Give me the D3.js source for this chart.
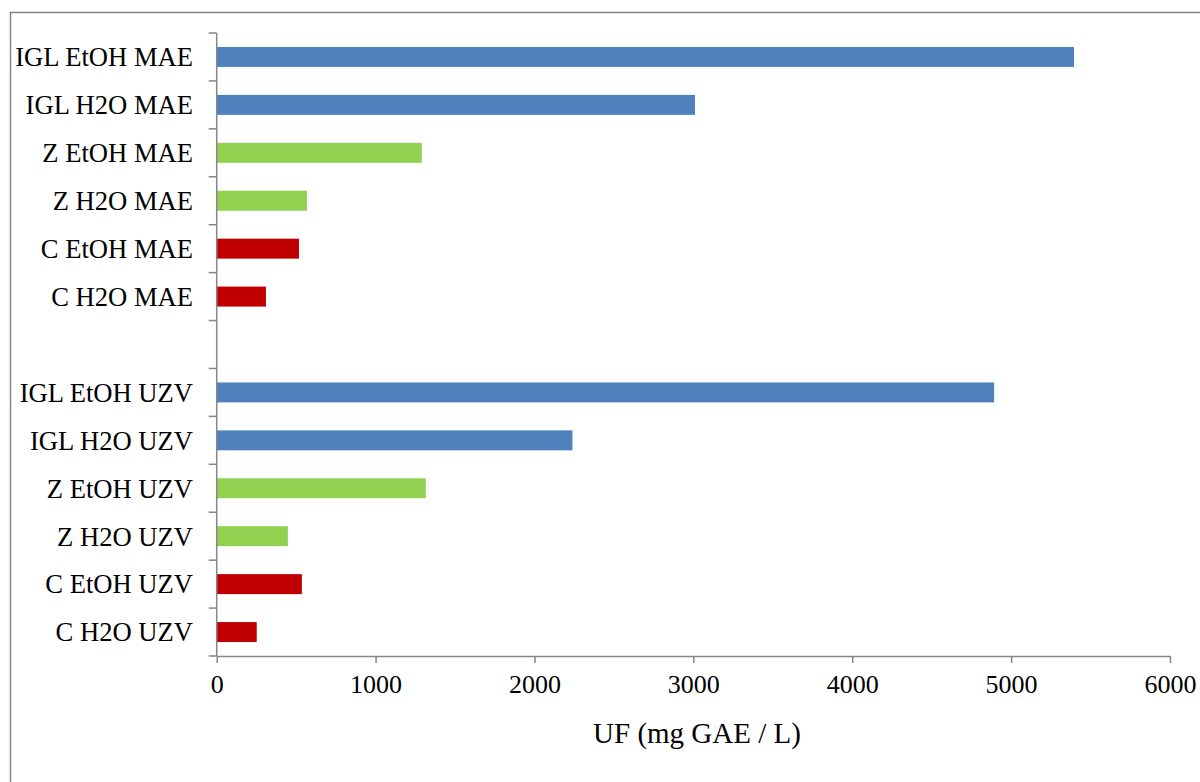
<!DOCTYPE html>
<html>
<head>
<meta charset="utf-8">
<script src="https://cdn.jsdelivr.net/npm/d3@7"></script>
<style>
  html, body { margin: 0; padding: 0; background: #fff; }
  svg { display: block; }
</style>
</head>
<body>
<svg id="chart" width="1200" height="782"></svg>
<script>
// Categories top to bottom ("" = empty slot between groups)
const categories = [
  "IGL EtOH MAE", "IGL H2O MAE", "Z EtOH MAE", "Z H2O MAE", "C EtOH MAE", "C H2O MAE",
  "",
  "IGL EtOH UZV", "IGL H2O UZV", "Z EtOH UZV", "Z H2O UZV", "C EtOH UZV", "C H2O UZV"
];
const values = [5396, 3010, 1291, 568, 518, 310, null, 4893, 2239, 1316, 448, 536, 252];
const groups = ["IGL", "IGL", "Z", "Z", "C", "C", null, "IGL", "IGL", "Z", "Z", "C", "C"];
const groupColors = { IGL: "#4F81BD", Z: "#92D050", C: "#C00000" };
const xTicks = [0, 1000, 2000, 3000, 4000, 5000, 6000];
const xTitle = "UF (mg GAE / L)";

(function () {
const svg = d3.select("#chart");
const font = "'Liberation Serif', 'Times New Roman', serif";
const axisColor = "#868686";

// Outer chart border (extends beyond the visible window on right and bottom)
svg.append("path")
  .attr("d", "M10.5,790 V12.5 H1210")
  .attr("fill", "none")
  .attr("stroke", axisColor)
  .attr("stroke-width", 1.5);

const pLeft = 216.7, pRight = 1170, pTop = 33, pBottom = 656;

const x = d3.scaleLinear().domain([0, 6000]).range([pLeft, pRight]);
const y = d3.scaleBand().domain(d3.range(categories.length)).range([pTop, pBottom]).paddingInner(0).paddingOuter(0);

const barH = y.bandwidth() / 2.4;

const data = categories.map((c, i) => ({ c, i, v: values[i], g: groups[i] })).filter(d => d.v != null);

svg.append("g").selectAll("rect").data(data).join("rect")
  .attr("x", x(0))
  .attr("y", d => y(d.i) + (y.bandwidth() - barH) / 2)
  .attr("width", d => x(d.v) - x(0))
  .attr("height", barH)
  .attr("fill", d => groupColors[d.g]);

// Y axis line and ticks (ticks at category boundaries)
const yAxisG = svg.append("g");
yAxisG.append("line")
  .attr("x1", pLeft).attr("x2", pLeft).attr("y1", pTop).attr("y2", pBottom)
  .attr("stroke", axisColor).attr("stroke-width", 1.5);
const boundaries = d3.range(categories.length + 1).map(k => pTop + k * y.step());
yAxisG.selectAll("line.tick").data(boundaries).join("line")
  .attr("class", "tick")
  .attr("x1", pLeft - 8).attr("x2", pLeft)
  .attr("y1", d => d).attr("y2", d => d)
  .attr("stroke", axisColor).attr("stroke-width", 1.5);
yAxisG.selectAll("text").data(categories.map((c, i) => ({ c, i })).filter(d => d.c)).join("text")
  .attr("x", 193)
  .attr("y", d => y(d.i) + y.bandwidth() / 2)
  .attr("dy", "0.35em")
  .attr("text-anchor", "end")
  .attr("font-family", font)
  .attr("font-size", 26.6)
  .attr("fill", "#000")
  .text(d => d.c);

// X axis
const xAxis = d3.axisBottom(x).tickValues(xTicks).tickSize(7).tickPadding(12).tickSizeOuter(0).tickFormat(d3.format("d"));
const xg = svg.append("g").attr("transform", `translate(0,${pBottom})`).call(xAxis);
xg.select(".domain").attr("stroke", axisColor).attr("stroke-width", 1.5);
xg.selectAll(".tick line").attr("stroke", axisColor).attr("stroke-width", 1.5);
xg.selectAll(".tick text")
  .attr("font-family", font)
  .attr("font-size", 26)
  .attr("fill", "#000");

svg.append("text")
  .attr("x", 697)
  .attr("y", 743)
  .attr("text-anchor", "middle")
  .attr("font-family", font)
  .attr("font-size", 29)
  .attr("fill", "#000")
  .text(xTitle);
})();
</script>
</body>
</html>
